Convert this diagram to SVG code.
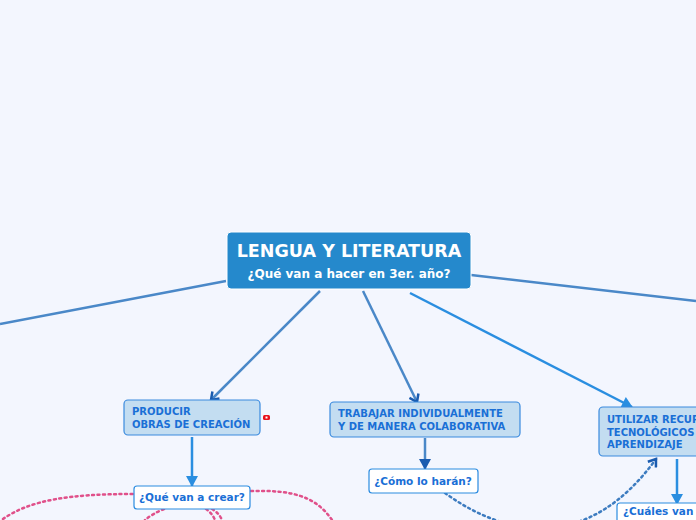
<svg xmlns="http://www.w3.org/2000/svg" width="696" height="520" viewBox="0 0 696 520">
<style>
.bg{fill:#f3f6fe}
.main{fill:#2589cc;stroke:#ffffff;stroke-width:1}
.mt{font-family:Verdana,"DejaVu Sans",sans-serif;font-weight:bold;fill:#ffffff;text-anchor:middle}
.sub{fill:#c3ddf1;stroke:#3a8ade;stroke-width:1.2}
.st{font-family:Verdana,"DejaVu Sans",sans-serif;font-weight:bold;font-size:10px;fill:#1a6fd6}
.leaf{fill:#ffffff;stroke:#2a8be0;stroke-width:1.2}
.lt{font-family:Verdana,"DejaVu Sans",sans-serif;font-weight:bold;font-size:10.5px;fill:#1a6fd6}
.c1{fill:none;stroke:#4a88c8;stroke-width:2.5}
.c2{fill:none;stroke:#2a8ee0;stroke-width:2.5}
.dp{fill:none;stroke:#e0508a;stroke-width:2.5;stroke-dasharray:2 3.5;stroke-linecap:round}
.db{fill:none;stroke:#3d7cc0;stroke-width:2.5;stroke-dasharray:2 3.5;stroke-linecap:round}
</style>
<defs>
<marker id="open" markerWidth="12" markerHeight="12" refX="9" refY="6" orient="auto" markerUnits="userSpaceOnUse">
<path d="M2,1 L9,6 L2,11" fill="none" stroke="#1a5cb0" stroke-width="2.5"/>
</marker>
<marker id="tri" markerWidth="14" markerHeight="14" refX="11" refY="7" orient="auto" markerUnits="userSpaceOnUse">
<path d="M1,1 L12,7 L1,13 Z" fill="#2a8ee0"/>
</marker>
<marker id="triD" markerWidth="14" markerHeight="14" refX="11" refY="7" orient="auto" markerUnits="userSpaceOnUse">
<path d="M1,1 L12,7 L1,13 Z" fill="#1a5cb0"/>
</marker>
</defs>
<rect class="bg" x="0" y="0" width="696" height="520"/>
<g id="connectors">
<line class="c1" x1="226" y1="281" x2="0" y2="324"/>
<line class="c1" x1="471" y1="275" x2="696" y2="301"/>
<line class="c1" x1="320" y1="291" x2="211" y2="400" marker-end="url(#open)"/>
<line class="c1" x1="363" y1="291" x2="417" y2="402" marker-end="url(#open)"/>
<line class="c2" x1="410" y1="293" x2="632" y2="407" marker-end="url(#tri)"/>
<line class="c2" x1="192" y1="437" x2="192" y2="486" marker-end="url(#tri)"/>
<line class="c1" x1="425" y1="438" x2="425" y2="469" marker-end="url(#triD)"/>
<line class="c2" x1="677" y1="459" x2="677" y2="504" marker-end="url(#tri)"/>
<path class="db" d="M445,493 C510,540 590,550 656,459" marker-end="url(#open)"/>
<path class="dp" d="M3,519 C30,500 70,494 133,494"/>
<path class="dp" d="M251,491 C290,490 315,495 332,520"/>
<path class="dp" d="M164,509 Q152,514 145,520"/>
<path class="dp" d="M206,509 Q212,513 215,520"/>
<path class="dp" d="M212,509 Q219,513 222,520"/>
</g>
<g id="central">
<rect class="main" x="227" y="232" width="244" height="57" rx="4"/>
<text class="mt" x="349" y="257" font-size="17.5">LENGUA Y LITERATURA</text>
<text class="mt" x="349" y="278" font-size="12">¿Qué van a hacer en 3er. año?</text>
</g>
<g id="producir">
<rect class="sub" x="124" y="400" width="136" height="35" rx="4"/>
<text class="st" x="132" y="415">PRODUCIR</text>
<text class="st" x="132" y="428">OBRAS DE CREACIÓN</text>
<rect x="263" y="415" width="7" height="5" rx="1.5" fill="#e8101a"/>
<rect x="265.5" y="416.5" width="2" height="2" fill="#ffffff"/>
</g>
<g id="trabajar">
<rect class="sub" x="330" y="402" width="190" height="35" rx="4"/>
<text class="st" x="338" y="417">TRABAJAR INDIVIDUALMENTE</text>
<text class="st" x="338" y="430">Y DE MANERA COLABORATIVA</text>
</g>
<g id="utilizar">
<rect class="sub" x="599" y="407" width="120" height="49" rx="4"/>
<text class="st" x="607" y="423">UTILIZAR RECURSOS</text>
<text class="st" x="607" y="436">TECNOLÓGICOS PARA EL</text>
<text class="st" x="607" y="448">APRENDIZAJE</text>
</g>
<g id="crear">
<rect class="leaf" x="134" y="486" width="116" height="23" rx="3"/>
<text class="lt" x="192" y="501" text-anchor="middle">¿Qué van a crear?</text>
</g>
<g id="como">
<rect class="leaf" x="369" y="469" width="109" height="24" rx="3"/>
<text class="lt" x="423" y="485" text-anchor="middle">¿Cómo lo harán?</text>
</g>
<g id="cuales">
<rect class="leaf" x="617" y="503" width="110" height="24" rx="3"/>
<text class="lt" x="623" y="515">¿Cuáles van a usar?</text>
</g>
</svg>
